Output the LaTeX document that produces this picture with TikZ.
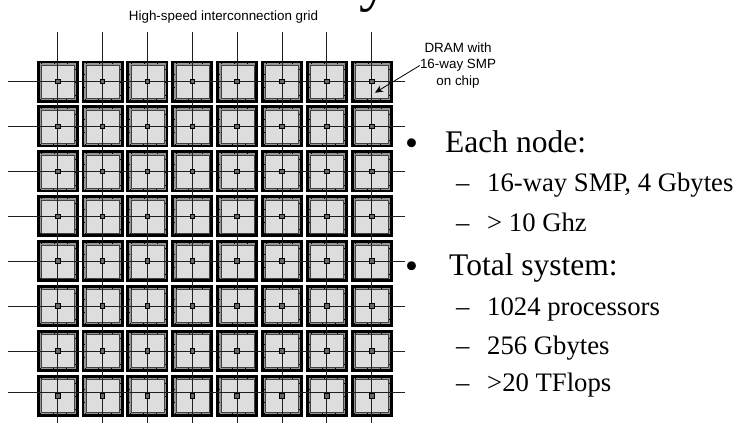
\documentclass[tikz,border=0pt]{standalone}
\usepackage{fontspec}
\setmainfont{Liberation Serif}
\setsansfont{Liberation Sans}
\usetikzlibrary{arrows.meta,positioning}
\definecolor{ChipGray}{RGB}{221,221,221}
\definecolor{RingGray}{RGB}{150,150,150}
\definecolor{DarkText}{RGB}{30,30,30}
\tikzset{
  arr/.style={-{Stealth[length=8pt,width=7pt]},black,line width=0.8pt},
  wire/.style={DarkText,line width=1pt},
  note/.style={font=\sffamily\fontsize{13.4}{16.2}\selectfont,align=center,inner sep=0pt},
  head/.style={font=\fontsize{31.5}{34}\selectfont,anchor=base west,inner sep=0pt},
  dot/.style={font=\fontsize{37}{34}\selectfont,anchor=base west,inner sep=0pt},
  item/.style={font=\fontsize{26.7}{30}\selectfont,anchor=base west,inner sep=0pt},
}
\begin{document}
\begin{tikzpicture}[x=1pt,y=-1pt,
                nodebox/.style={rectangle, draw=black, fill=RingGray, line width=2.8pt, minimum size=39.2pt, inner sep=0pt},
                tickbox/.style={rectangle, draw=black, line width=1pt, dash pattern=on 1pt off 12pt, minimum size=35.5pt, inner sep=0pt},
                chip/.style={rectangle, draw=DarkText!85, fill=ChipGray, line width=1pt, minimum size=33pt, inner sep=0pt},
                pad/.style={rectangle, draw=black, fill=black!60, line width=0.8pt, minimum size=4.6pt, inner sep=0pt}
            ]
                \useasboundingbox (0,0) rectangle (738,423);
                % Title
                \clip (0,0) rectangle (738,423);
                \node[font=\fontsize{60}{60}\selectfont, anchor=base west, inner sep=0pt] (title) at (359,-1) {y};

                % Grid
                \foreach \r in {1,...,8} {
                    \foreach \c in {1,...,8} {
                        \node[nodebox] (n\r\c) at ({57.7+44.86*(\c-1)},{81.5+44.9*(\r-1)}) {};
                        \node[tickbox] (t\r\c) at (n\r\c) {};
                        \node[chip] (c\r\c) at ([shift={(0.4,0.4)}]n\r\c) {};
                    }
                }

                % Wires
                \foreach \c in {1,...,8} {
                    \coordinate (top\c) at ({57.7+44.86*(\c-1)},32);
                    \coordinate (bot\c) at ({57.7+44.86*(\c-1)},423);
                    \draw[wire] (top\c) -- (bot\c);
                }
                \foreach \r/\y in {1/81.5,2/126.5,3/171.5,4/216.5,5/261.5,6/306.5,7/351,8/392} {
                    \coordinate (left\r) at (8,\y);
                    \coordinate (right\r) at (405,\y);
                    \draw[wire] (left\r) -- (right\r);
                }
                \foreach \r in {1,...,8} {
                    \foreach \c in {1,...,8} {
                        \node[pad] (p\r\c) at (n\r\c) {};
                    }
                }

                % Labels
                \node[note] (grid) at (223.5,17) {High-speed interconnection grid};
                \node[note] (dram) at (458,65.5) {DRAM with\\16-way SMP\\on chip};
                \coordinate (tip) at (375,92.7);
                \draw[arr] (dram.west) -- (tip);

                % Bullets
                \node[dot] (b1) at (405,155) {•};
                \node[head] (h1) at (445,152.7) {Each node:};
                \node[item] (d1) at (456,191.7) {–};
                \node[item] (i1) at (487,191.7) {16-way SMP, 4 Gbytes};
                \node[item] (d2) at (456,231.7) {–};
                \node[item] (i2) at (487,231.7) {> 10 Ghz};
                \node[dot] (b2) at (405,278) {•};
                \node[head] (h2) at (449,275.7) {Total system:};
                \node[item] (d3) at (456,315) {–};
                \node[item] (i3) at (487,315) {1024 processors};
                \node[item] (d4) at (456,354) {–};
                \node[item] (i4) at (487,354) {256 Gbytes};
                \node[item] (d5) at (456,391.7) {–};
                \node[item] (i5) at (487,391.7) {>20 TFlops};
            \end{tikzpicture}
\end{document}
